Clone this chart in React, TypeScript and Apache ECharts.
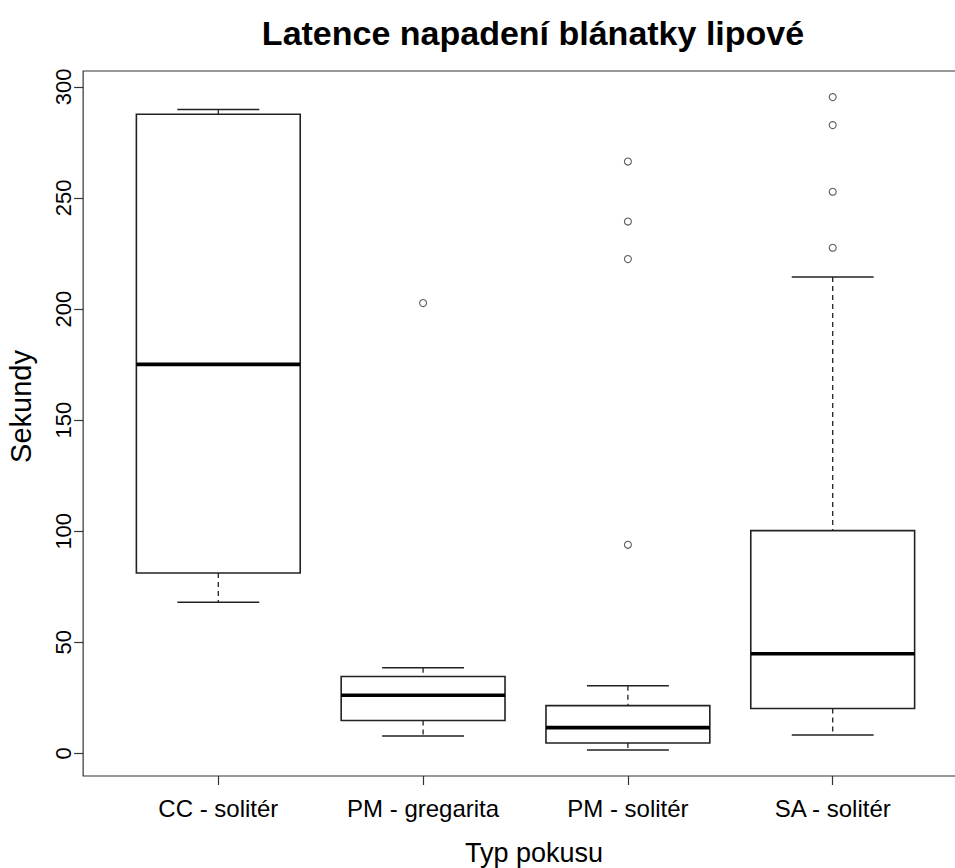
import React, { useEffect, useRef } from "react";
import * as echarts from "echarts";

// Latence napadení blánatky lipové – boxplot (R-style) of attack latency per trial type
const categories = ["CC - solitér", "PM - gregarita", "PM - solitér", "SA - solitér"];
const whiskerLow = [68, 7.9, 1.6, 8.3];
const quartile1 = [81.2, 14.8, 4.7, 20.2];
const medians = [175.1, 26.2, 11.6, 44.9];
const quartile3 = [287.7, 34.6, 21.5, 100.3];
const whiskerHigh = [289.8, 38.6, 30.5, 214.4];

// outliers: group index + value
const outlierGroup = [1, 2, 2, 2, 2, 3, 3, 3, 3];
const outlierValue = [202.7, 266.4, 239.4, 222.5, 93.9, 295.4, 282.8, 252.8, 227.6];

const yTicks = [0, 50, 100, 150, 200, 250, 300];

const FONT = "'Liberation Sans', Arial, Helvetica, sans-serif";
const INK = "#222";

// plot region: category bands plus a 4 % margin of the x range on each side
const BAND_LEFT = 115.9;
const BAND_WIDTH = 819.2;
const PLOT_TOP = 71;
const PLOT_HEIGHT = 705;

export default function App() {
  const ref = useRef<HTMLDivElement>(null);

  useEffect(() => {
    if (!ref.current) return;
    const chart = echarts.init(ref.current, undefined, { renderer: "svg" });

    // y range extended by 4 % of the data range on each side (R's default)
    const all = [...whiskerLow, ...whiskerHigh, ...outlierValue];
    const dMin = Math.min(...all);
    const dMax = Math.max(...all);
    const pad = (dMax - dMin) * 0.04;
    const yMin = dMin - pad;
    const yMax = dMax + pad;

    // x range 0.5..n+0.5 widened by 4 % on both sides
    const n = categories.length;
    const xPad = n * 0.04;
    const unit = BAND_WIDTH / n;
    const frameLeft = BAND_LEFT - xPad * unit;
    const frameWidth = BAND_WIDTH + 2 * xPad * unit;

    const boxData = categories.map((_, i) => [
      i,
      whiskerLow[i],
      quartile1[i],
      medians[i],
      quartile3[i],
      whiskerHigh[i],
    ]);
    const outlierData = outlierGroup.map((g, k) => [g, outlierValue[k]]);

    const option: any = {
      animation: false,
      backgroundColor: "#fff",
      textStyle: { fontFamily: FONT },
      grid: {
        left: BAND_LEFT,
        width: BAND_WIDTH,
        top: PLOT_TOP,
        height: PLOT_HEIGHT,
        show: false,
      },
      xAxis: {
        type: "category",
        data: categories,
        axisLine: { show: false, onZero: false },
        axisTick: {
          show: true,
          alignWithLabel: true,
          length: 9,
          lineStyle: { color: "#333", width: 1.2 },
        },
        axisLabel: {
          color: "#000",
          fontSize: 24,
          fontFamily: FONT,
          margin: 20,
          lineHeight: 24,
        },
        splitLine: { show: false },
      },
      yAxis: {
        type: "value",
        min: yMin,
        max: yMax,
        offset: BAND_LEFT - frameLeft,
        axisLine: { show: false, onZero: false },
        axisTick: {
          show: true,
          length: 9,
          customValues: yTicks,
          lineStyle: { color: "#333", width: 1.2 },
        },
        axisLabel: {
          customValues: yTicks,
          rotate: 90,
          color: "#000",
          fontSize: 22,
          fontFamily: FONT,
          margin: 9,
          lineHeight: 22,
        },
        splitLine: { show: false },
      },
      series: [
        {
          type: "custom",
          data: boxData,
          encode: { x: 0, y: [1, 2, 3, 4, 5] },
          renderItem: (_params: any, api: any) => {
            const i = api.value(0);
            const lo = api.coord([i, api.value(1)]);
            const b1 = api.coord([i, api.value(2)]);
            const md = api.coord([i, api.value(3)]);
            const b3 = api.coord([i, api.value(4)]);
            const hi = api.coord([i, api.value(5)]);
            const band = api.size([1, 0])[0];
            const x = lo[0];
            const hw = band * 0.4;
            const sw = band * 0.2;
            const dashed = { stroke: INK, lineWidth: 1.3, lineDash: [5, 4], fill: null };
            const solid = { stroke: INK, lineWidth: 1.5, fill: null };
            return {
              type: "group",
              children: [
                { type: "line", shape: { x1: x, y1: hi[1], x2: x, y2: b3[1] }, style: dashed },
                { type: "line", shape: { x1: x, y1: b1[1], x2: x, y2: lo[1] }, style: dashed },
                { type: "line", shape: { x1: x - sw, y1: hi[1], x2: x + sw, y2: hi[1] }, style: solid },
                { type: "line", shape: { x1: x - sw, y1: lo[1], x2: x + sw, y2: lo[1] }, style: solid },
                {
                  type: "rect",
                  shape: { x: x - hw, y: b3[1], width: 2 * hw, height: b1[1] - b3[1] },
                  style: { stroke: INK, lineWidth: 1.6, fill: "#fff" },
                },
                {
                  type: "line",
                  shape: { x1: x - hw, y1: md[1], x2: x + hw, y2: md[1] },
                  style: { stroke: "#000", lineWidth: 3.6 },
                },
              ],
            };
          },
        },
        {
          type: "scatter",
          data: outlierData,
          symbol: "circle",
          symbolSize: 7,
          itemStyle: { color: "#fff", borderColor: "#333", borderWidth: 1.1 },
        },
      ],
      graphic: [
        {
          type: "rect",
          silent: true,
          z: -1,
          shape: { x: frameLeft, y: PLOT_TOP, width: frameWidth, height: PLOT_HEIGHT },
          style: { fill: "none", stroke: "#333", lineWidth: 1.2 },
        },
        {
          type: "text",
          x: 533,
          y: 33,
          style: {
            text: "Latence napadení blánatky lipové",
            font: `bold 34px ${FONT}`,
            fill: "#000",
            align: "center",
            verticalAlign: "middle",
          },
        },
        {
          type: "text",
          x: 534,
          y: 853,
          style: {
            text: "Typ pokusu",
            font: `27px ${FONT}`,
            fill: "#000",
            align: "center",
            verticalAlign: "middle",
          },
        },
        {
          type: "text",
          x: 21,
          y: 406.5,
          rotation: Math.PI / 2,
          style: {
            text: "Sekundy",
            font: `29px ${FONT}`,
            fill: "#000",
            align: "center",
            verticalAlign: "middle",
          },
        },
      ],
    };

    chart.setOption(option);
    return () => chart.dispose();
  }, []);

  return (
    <div
      ref={ref}
      style={{ position: "absolute", left: 0, top: 0, width: 955, height: 868 }}
    />
  );
}
